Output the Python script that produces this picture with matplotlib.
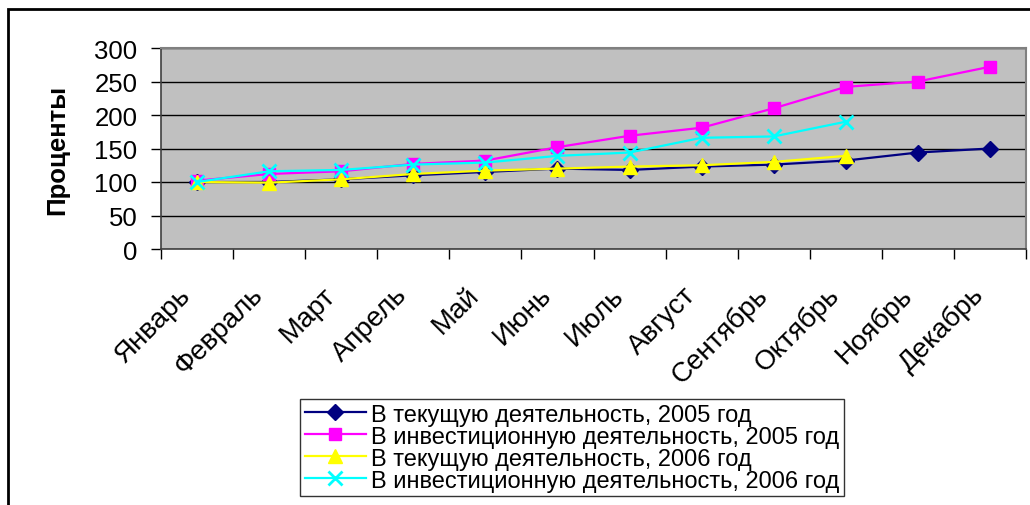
import matplotlib.pyplot as plt
from matplotlib.patches import Rectangle
from matplotlib.transforms import ScaledTranslation

plt.rcParams['font.family'] = ['Liberation Sans', 'DejaVu Sans']

months = ['Январь', 'Февраль', 'Март', 'Апрель', 'Май', 'Июнь', 'Июль',
          'Август', 'Сентябрь', 'Октябрь', 'Ноябрь', 'Декабрь']

tek_2005 = [100, 100, 104, 110, 115, 120, 118, 123, 126, 132, 144, 150]
inv_2005 = [102, 112, 116, 127, 132, 152, 169, 181, 210, 242, 250, 272]
tek_2006 = [100, 99, 104, 112, 117, 120, 123, 125, 130, 139]
inv_2006 = [100, 116, 118, 126, 129, 139, 144, 166, 168, 190]

labels = ['В текущую деятельность, 2005 год',
          'В инвестиционную деятельность, 2005 год',
          'В текущую деятельность, 2006 год',
          'В инвестиционную деятельность, 2006 год']

fig = plt.figure(figsize=(10.3, 5.06), dpi=100)
# outer chart frame (right and bottom edges fall outside the picture)
fig.patches.append(Rectangle((8 / 1030, -0.1), 1.2, 1 - 10 / 506 + 0.1,
                             transform=fig.transFigure, fill=False,
                             edgecolor='black', linewidth=2))

ax = fig.add_axes([161 / 1030, 1 - 250 / 506, 865 / 1030, 201 / 506])
ax.set_facecolor('#C0C0C0')

x1 = list(range(len(tek_2005)))
x2 = list(range(len(tek_2006)))
ax.plot(x1, tek_2005, color='#000080', marker='D', markersize=8, lw=1.6, label=labels[0], zorder=3)
ax.plot(x1, inv_2005, color='#FF00FF', marker='s', markersize=9, lw=1.6, label=labels[1], zorder=3)
ax.plot(x2, tek_2006, color='#FFFF00', marker='^', markersize=10, lw=1.6, label=labels[2], zorder=4)
ax.plot(x2, inv_2006, color='#00FFFF', marker='x', markersize=10, mew=2, lw=1.6, label=labels[3], zorder=4)

ax.set_xlim(-0.5, 11.5)
ax.set_ylim(0, 300)
ax.set_yticks(range(0, 301, 50))
ax.yaxis.grid(True, color='black', lw=1)
ax.set_axisbelow(True)
ax.tick_params(axis='y', labelsize=18.5, length=7, width=1, direction='out', pad=10)

ax.set_xticks(x1)
ax.set_xticklabels(months, rotation=45, ha='right', va='center', rotation_mode='anchor', fontsize=20)
ax.set_xticks([i - 0.5 for i in range(13)], minor=True)
ax.tick_params(axis='x', which='major', length=0, pad=30)
ax.tick_params(axis='x', which='minor', length=7, width=1, direction='out')
shift = ScaledTranslation(-10 / 100, 0, fig.dpi_scale_trans)
for lab in ax.get_xticklabels():
    lab.set_transform(lab.get_transform() + shift)

for side in ['left', 'bottom']:
    ax.spines[side].set_color('#404040')
    ax.spines[side].set_linewidth(1.2)
for side in ['top', 'right']:
    ax.spines[side].set_color('#808080')
    ax.spines[side].set_linewidth(1.5)

ax.set_ylabel('Проценты', fontsize=18.5, fontweight='bold', labelpad=18)

leg = fig.legend(loc='upper left', bbox_to_anchor=(300 / 1030, 1 - 400 / 506),
                 fontsize=17, frameon=True, fancybox=False, edgecolor='black',
                 borderpad=0.2, labelspacing=0.0, handlelength=2.6, handletextpad=0.2,
                 borderaxespad=0)
leg.get_frame().set_linewidth(1)

fig.savefig('out.png', dpi=100)
